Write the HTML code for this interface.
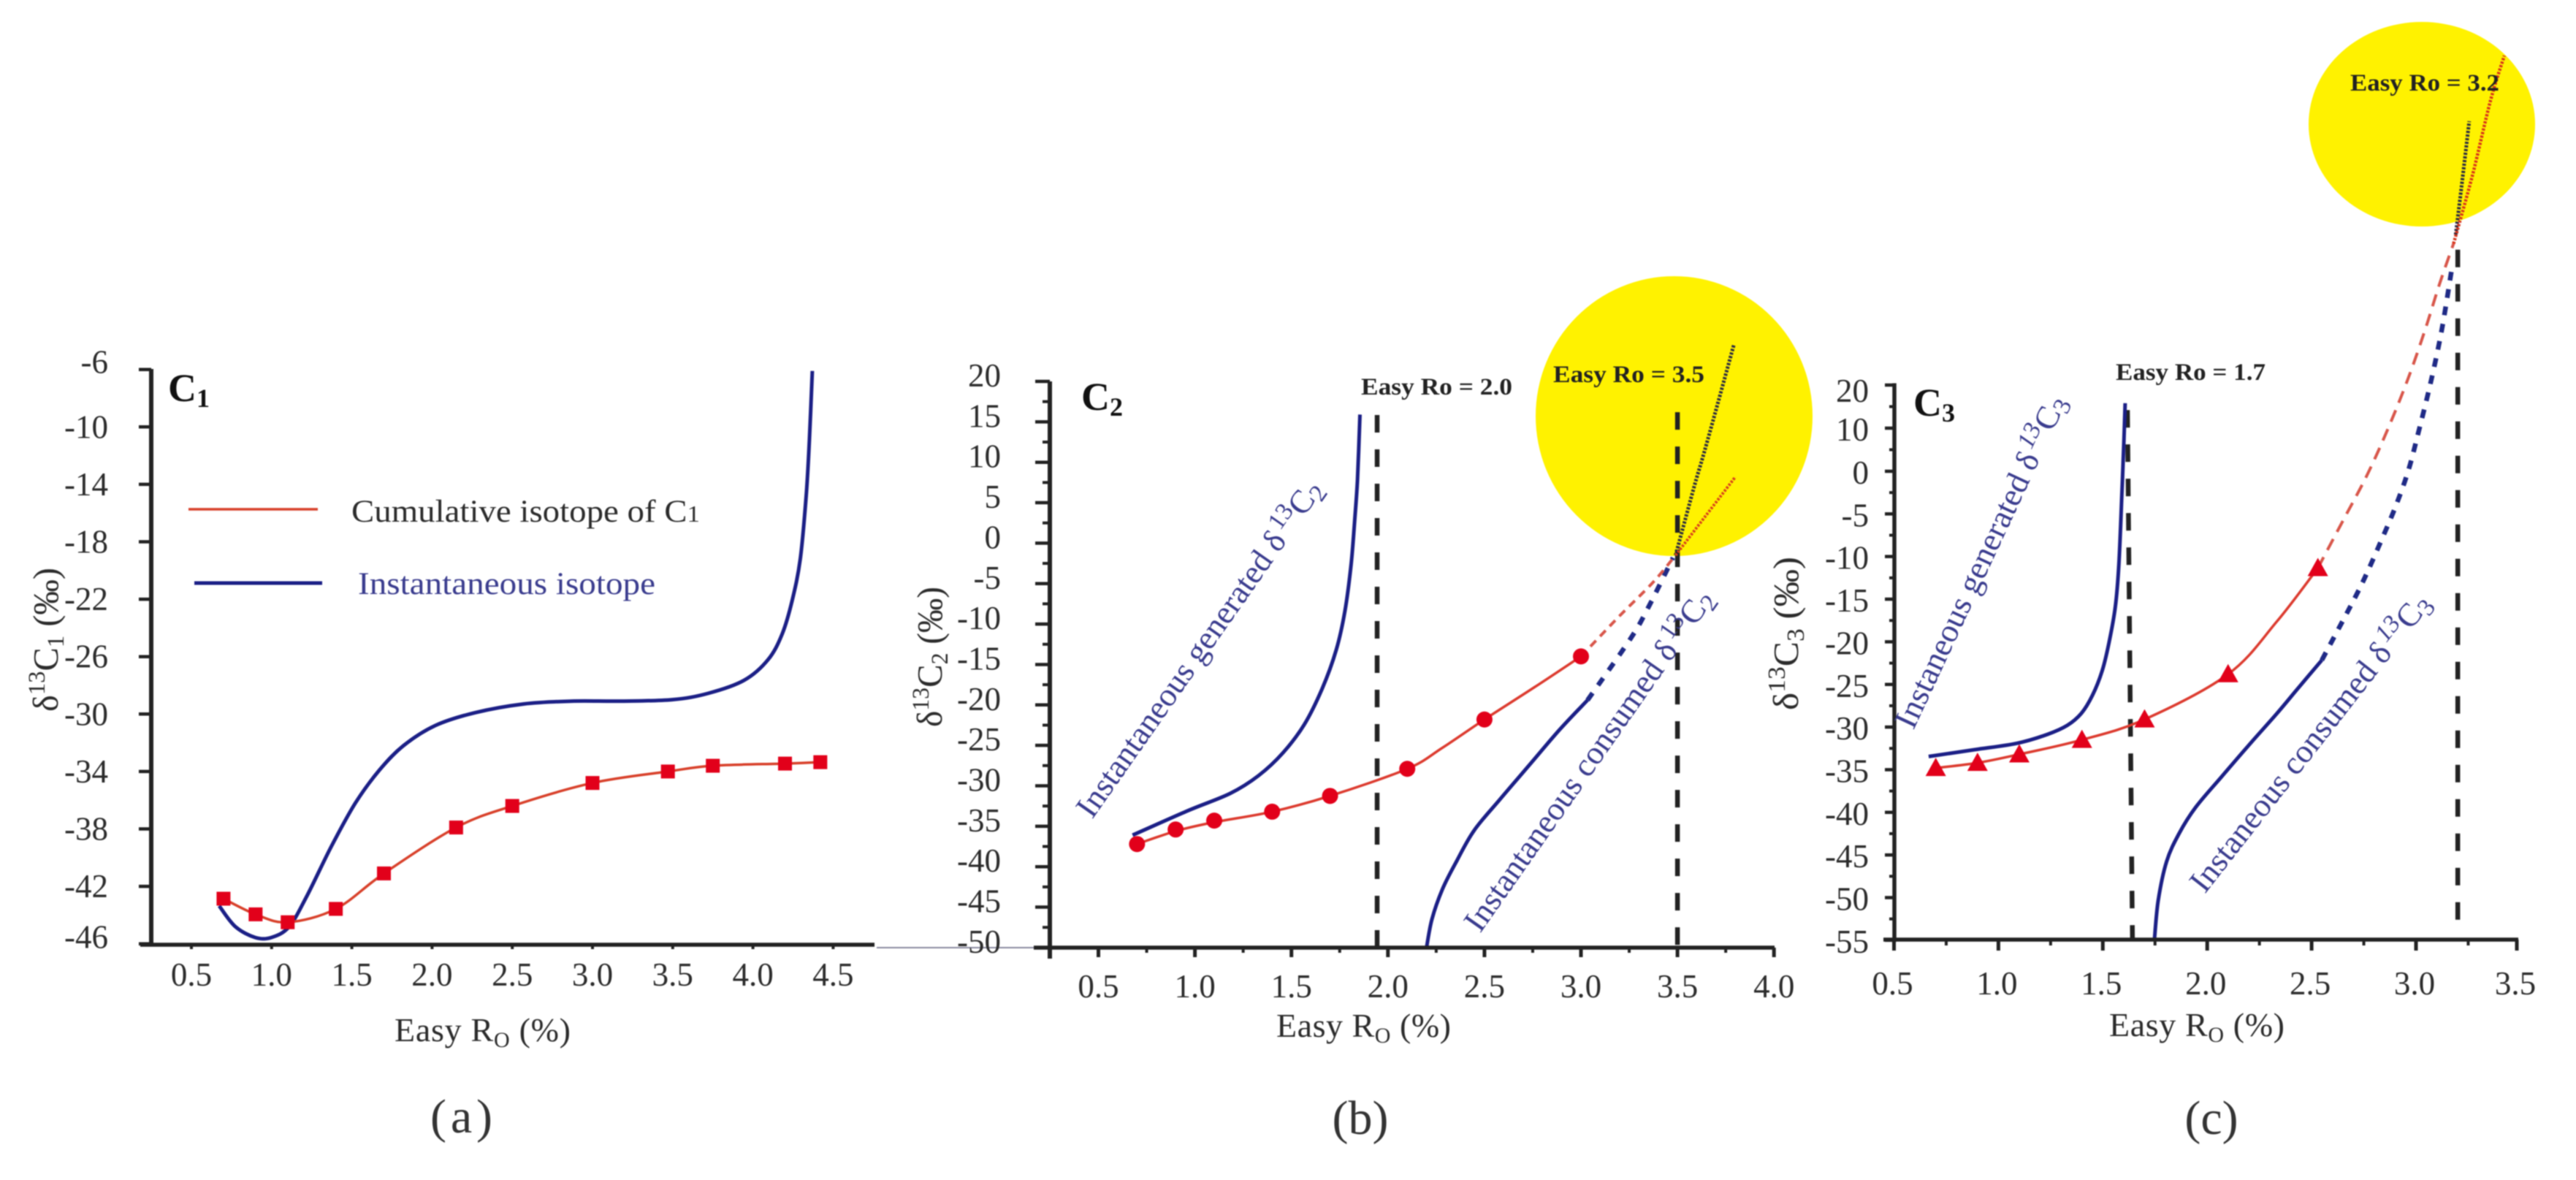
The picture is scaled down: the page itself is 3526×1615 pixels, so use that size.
<!DOCTYPE html>
<html>
<head>
<meta charset="utf-8">
<title>Isotope curves of C1, C2 and C3 versus Easy Ro</title>
<style>
html,body{margin:0;padding:0;background:#fff;width:3526px;height:1615px;overflow:hidden}
svg{display:block;filter:blur(0.9px)}
text{font-family:"Liberation Serif","DejaVu Serif",serif;fill:#2b2b2b}
.tick{font-size:45px}
.title{font-size:46px}
.ytitle{font-size:49px}
.tag{font-size:33px;font-weight:bold;fill:#222}
.panel{font-size:54px;font-weight:bold;fill:#111}
.cap{font-size:66px;fill:#333}
.blue{fill:#3a3c8e}
.rot{font-size:45px;fill:#3a3c8e}
</style>
</head>
<body>
<svg id="chart" width="3526" height="1615" viewBox="0 0 3526 1615">
  <rect x="0" y="0" width="3526" height="1615" fill="#fff"/>
  <line x1="1200" y1="1297" x2="1420" y2="1297" stroke="#8a8aa0" stroke-width="2"/>

  <g id="panel-a">
    <text class="panel" x="230" y="549">C<tspan font-size="36" dy="8">1</tspan></text>
    <g id="marks-a"></g>
    <line x1="258" y1="697" x2="435" y2="697" stroke="#d8402a" stroke-width="3.5"/>
    <text x="481" y="714" font-size="43" textLength="477" lengthAdjust="spacingAndGlyphs">Cumulative isotope of C<tspan font-size="32">1</tspan></text>
    <line x1="266" y1="798" x2="441" y2="798" stroke="#1b1f86" stroke-width="5"/>
    <text class="blue" x="490" y="813" font-size="43" textLength="407" lengthAdjust="spacingAndGlyphs">Instantaneous isotope</text>
    <text class="title" x="540" y="1425" textLength="241">Easy R<tspan font-size="30" dy="8">O</tspan><tspan dy="-8"> (%)</tspan></text>
    <text class="ytitle" transform="translate(79,974) rotate(-90)" textLength="197" lengthAdjust="spacingAndGlyphs">δ<tspan font-size="33" dy="-18">13</tspan><tspan dy="18">C</tspan><tspan font-size="33" dy="8">1</tspan><tspan dy="-8"> (‰)</tspan></text>
    <text class="cap" x="589" y="1550" textLength="85" lengthAdjust="spacing">(a)</text>
  </g>

  <g id="panel-b">
    <ellipse cx="2291.5" cy="569.5" rx="189.5" ry="191.5" fill="#fff200"/>
    <g id="marks-b"></g>
    <text class="panel" x="1480" y="561">C<tspan font-size="36" dy="8">2</tspan></text>
    <text class="tag" x="1863" y="540" textLength="207" lengthAdjust="spacingAndGlyphs">Easy Ro = 2.0</text>
    <text class="tag" x="2126" y="523" textLength="207" lengthAdjust="spacingAndGlyphs">Easy Ro = 3.5</text>
    <text class="rot" transform="translate(1495,1122) rotate(-55)">Instantaneous generated δ<tspan font-size="34" dy="-16" dx="5">13</tspan><tspan dy="16">C</tspan><tspan font-size="34" dy="8">2</tspan></text>
    <text class="rot" transform="translate(2026,1278) rotate(-55)">Instantaneous consumed δ<tspan font-size="34" dy="-16" dx="5">13</tspan><tspan dy="16">C</tspan><tspan font-size="34" dy="8">2</tspan></text>
    <text class="title" x="1747" y="1419" textLength="239">Easy R<tspan font-size="30" dy="8">O</tspan><tspan dy="-8"> (%)</tspan></text>
    <text class="ytitle" transform="translate(1289,995) rotate(-90)" textLength="192" lengthAdjust="spacingAndGlyphs">δ<tspan font-size="33" dy="-18">13</tspan><tspan dy="18">C</tspan><tspan font-size="33" dy="8">2</tspan><tspan dy="-8"> (‰)</tspan></text>
    <text class="cap" x="1862" y="1552" text-anchor="middle">(b)</text>
  </g>

  <g id="panel-c">
    <ellipse cx="3315" cy="170" rx="155" ry="140" fill="#fff200"/>
    <g id="marks-c"></g>
    <text class="panel" x="2619" y="569">C<tspan font-size="36" dy="8">3</tspan></text>
    <text class="tag" x="2896" y="520" textLength="205" lengthAdjust="spacingAndGlyphs">Easy Ro = 1.7</text>
    <text class="tag" x="3217" y="124" textLength="204" lengthAdjust="spacingAndGlyphs">Easy Ro = 3.2</text>
    <text class="rot" transform="translate(2619,1000) rotate(-65)">Instaneous generated δ<tspan font-size="34" dy="-16" dx="5" font-style="italic">13</tspan><tspan dy="16">C</tspan><tspan font-size="34" dy="8">3</tspan></text>
    <text class="rot" transform="translate(3018,1224) rotate(-52)">Instaneous consumed δ<tspan font-size="34" dy="-16" dx="5" font-style="italic">13</tspan><tspan dy="16">C</tspan><tspan font-size="34" dy="8">3</tspan></text>
    <text class="title" x="2887" y="1418" textLength="240">Easy R<tspan font-size="30" dy="8">O</tspan><tspan dy="-8"> (%)</tspan></text>
    <text class="ytitle" transform="translate(2461,972) rotate(-90)" font-size="52" textLength="210" lengthAdjust="spacingAndGlyphs">δ<tspan font-size="34" dy="-18">13</tspan><tspan dy="18">C</tspan><tspan font-size="34" dy="8">3</tspan><tspan dy="-8"> (‰)</tspan></text>
    <text class="cap" x="3027" y="1552" text-anchor="middle">(c)</text>
  </g>
</svg>

<script>
// ---------- Panel (a) data ----------
const aXTicks = [0.5, 1.0, 1.5, 2.0, 2.5, 3.0, 3.5, 4.0, 4.5];
const aYTicks = [-6, -10, -14, -18, -22, -26, -30, -34, -38, -42, -46];
const aCumulativeX = [0.7, 0.9, 1.1, 1.4, 1.7, 2.15, 2.5, 3.0, 3.47, 3.75, 4.2, 4.42];
const aCumulativeY = [-42.86, -43.95, -44.5, -43.57, -41.1, -37.9, -36.4, -34.8, -34.0, -33.6, -33.45, -33.35];
const aInstantX = [0.673, 0.773, 0.898, 0.998, 1.11, 1.223, 1.373, 1.522, 1.672, 1.822, 2.02, 2.27, 2.571, 2.871, 3.171, 3.496, 3.72, 3.945, 4.095, 4.183, 4.245, 4.295, 4.332, 4.352, 4.37];
const aInstantY = [-43.36, -44.8, -45.56, -45.56, -44.8, -42.6, -39.2, -36.2, -33.9, -32.2, -30.8, -29.9, -29.3, -29.1, -29.1, -29.0, -28.56, -27.65, -26.2, -24.4, -22.07, -19.2, -14.8, -10.9, -6.1];

// ---------- Panel (b) data ----------
const bXTicks = [0.5, 1.0, 1.5, 2.0, 2.5, 3.0, 3.5, 4.0];
const bYTicks = [20, 15, 10, 5, 0, -5, -10, -15, -20, -25, -30, -35, -40, -45, -50];
const bCumulativeX = [0.7, 0.9, 1.1, 1.4, 1.7, 2.1, 2.5, 3.0];
const bCumulativeY = [-37.2, -35.4, -34.3, -33.2, -31.25, -27.9, -21.8, -14.0];
const bCumLineX = [0.7, 0.9, 1.1, 1.4, 1.7, 2.1, 2.282, 2.5, 2.76, 3.0];
const bCumLineY = [-37.2, -35.6, -34.5, -33.2, -31.25, -27.9, -25.3, -21.8, -17.8, -14.0];
const bCumDashX = [3.0, 3.2, 3.375, 3.49];
const bCumDashY = [-14.0, -9, -4.8, -1.5];
const bCumDotX = [3.49, 3.65, 3.8];
const bCumDotY = [-1.5, 3.5, 8.2];
const bGeneratedX = [0.677, 0.961, 1.182, 1.329, 1.457, 1.567, 1.659, 1.732, 1.777, 1.809, 1.827, 1.842, 1.855];
const bGeneratedY = [-36.1, -33.1, -30.95, -28.75, -25.9, -22.4, -18.0, -13.2, -8.4, -2.7, 2.57, 7.8, 15.9];
const bConsumedX = [2.2, 2.228, 2.282, 2.356, 2.447, 2.576, 2.723, 2.888, 3.034];
const bConsumedY = [-50, -46.5, -42.8, -39.3, -35.5, -31.8, -27.7, -23.1, -19.4];
const bConsDashX = [3.034, 3.257, 3.352, 3.477];
const bConsDashY = [-19.4, -11.8, -7.8, -1.8];
const bBlackDotX = [3.49, 3.588, 3.65, 3.793];
const bBlackDotY = [-1.5, 7.1, 12.2, 24.6];
const bCutoffTopX = [1.944, 3.5];
const bCutoffBottomX = [1.944, 3.5];
const bCutoffTop = [15.85, 16.2];
const bCutoffBottom = [-50, -50];

// ---------- Panel (c) data ----------
const cXTicks = [0.5, 1.0, 1.5, 2.0, 2.5, 3.0, 3.5];
const cYTicks = [20, 10, 0, -5, -10, -15, -20, -25, -30, -35, -40, -45, -50, -55];
const cCumulativeX = [0.7, 0.9, 1.1, 1.4, 1.7, 2.1, 2.53];
const cCumulativeY = [-34.8, -34.2, -33.2, -31.5, -29.1, -23.8, -11.35];
const cCumLineX = [0.7, 0.9, 1.1, 1.4, 1.7, 2.1, 2.334, 2.53];
const cCumLineY = [-34.8, -34.2, -33.2, -31.5, -29.1, -23.8, -17.6, -11.35];
const cCumDashX = [2.53, 2.649, 2.766, 2.871, 2.964, 3.045, 3.115, 3.18];
const cCumDashY = [-11.35, -5.85, -0.43, 10.46, 21.75, 33.05, 43.8, 52.8];
const cCumDotX = [3.18, 3.27, 3.357, 3.423];
const cCumDotY = [52.8, 68.6, 86, 96.4];
const cGeneratedX = [0.666, 0.887, 1.089, 1.236, 1.33, 1.397, 1.45, 1.497, 1.53, 1.56, 1.577, 1.59, 1.601, 1.607];
const cGeneratedY = [-33.45, -32.65, -31.9, -30.85, -29.8, -28.4, -26.3, -23.4, -20.05, -15.9, -10.9, -3.5, 7.1, 15.8];
const cConsumedX = [1.747, 1.765, 1.805, 1.865, 1.945, 2.066, 2.2, 2.334, 2.44, 2.549];
const cConsumedY = [-55, -50.4, -45.8, -42.5, -39.4, -35.9, -32.1, -28.4, -25.3, -22.15];
const cConsDashX = [2.549, 2.707, 2.771, 2.841, 2.906, 2.964, 3.01, 3.069, 3.121, 3.162, 3.174];
const cConsDashY = [-22.15, -14.85, -11.6, -7.7, -3.9, 0.29, 8.76, 20.3, 32.2, 44.1, 48];
const cBlackDotX = [3.19, 3.218, 3.255];
const cBlackDotY = [54.9, 66, 81.2];
const cCutoffTopX = [1.618, 3.2];
const cCutoffBottomX = [1.642, 3.2];
const cCutoffTop = [14.2, 51.4];
const cCutoffBottom = [-55, -52.7];

// ---------- Axis functions ----------
function axA_x(v){ return 811 + (v - 3) * 219.6; }
function axA_y(v){ return 505.7 + (-6 - v) * 19.65; }
function axB_x(v){ return 1503.5 + (v - 0.5) * 264.2; }
function axB_y(v){ return 522 + (20 - v) * 11.07; }
function axC_x(v){ return 2592.5 + (v - 0.5) * 285.8; }
function axC_y(v){ return v >= 0 ? 645 - 5.9 * v : 645 - 11.67 * v; } // printed axis is compressed above zero

const NS = document.getElementById('chart').namespaceURI;

function smoothPath(xs, ys, fx, fy){
  const p = xs.map(function(x, i){ return [fx(x), fy(ys[i])]; });
  let d = 'M' + p[0][0].toFixed(1) + ' ' + p[0][1].toFixed(1);
  for (let i = 0; i < p.length - 1; i++){
    const a = p[Math.max(i - 1, 0)], b = p[i], c = p[i + 1], e = p[Math.min(i + 2, p.length - 1)];
    const c1x = b[0] + (c[0] - a[0]) / 6, c1y = b[1] + (c[1] - a[1]) / 6;
    const c2x = c[0] - (e[0] - b[0]) / 6, c2y = c[1] - (e[1] - b[1]) / 6;
    d += 'C' + c1x.toFixed(1) + ' ' + c1y.toFixed(1) + ' ' + c2x.toFixed(1) + ' ' + c2y.toFixed(1) + ' ' + c[0].toFixed(1) + ' ' + c[1].toFixed(1);
  }
  return d;
}

function drawSeries(parent, name, xs, ys, fx, fy, color, width, dash){
  const path = document.createElementNS(NS, 'path');
  
  
  path.setAttribute('d', smoothPath(xs, ys, fx, fy));
  path.setAttribute('fill', 'none');
  path.setAttribute('stroke', color);
  path.setAttribute('stroke-width', width);
  if (dash) path.setAttribute('stroke-dasharray', dash);
  parent.appendChild(path);
}

function drawLine(parent, name, x1, y1, x2, y2, color, width, dash){
  const ln = document.createElementNS(NS, 'line');
  
  
  ln.setAttribute('x1', x1);
  ln.setAttribute('y1', y1);
  ln.setAttribute('x2', x2);
  ln.setAttribute('y2', y2);
  ln.setAttribute('stroke', color);
  ln.setAttribute('stroke-width', width);
  if (dash) ln.setAttribute('stroke-dasharray', dash);
  parent.appendChild(ln);
}

function drawLabel(parent, name, str, x, y, anchor){
  const t = document.createElementNS(NS, 'text');
  
  
  t.setAttribute('class', 'tick');
  t.setAttribute('x', x);
  t.setAttribute('y', y);
  t.setAttribute('text-anchor', anchor);
  t.textContent = str;
  parent.appendChild(t);
}

function xLabelText(v){ return v.toFixed(1); }

// ---------- Panel (a) ----------
(function(){
  const g = document.getElementById('marks-a');
  drawSeries(g, 'instantaneous-isotope-curve', aInstantX, aInstantY, axA_x, axA_y, '#1b1f86', 5);
  drawSeries(g, 'cumulative-isotope-curve', aCumulativeX, aCumulativeY, axA_x, axA_y, '#d8402a', 3.5);
  aCumulativeX.forEach(function(x, i){
    const m = document.createElementNS(NS, 'rect');
    
    
    m.setAttribute('x', axA_x(x) - 9.5);
    m.setAttribute('y', axA_y(aCumulativeY[i]) - 9.5);
    m.setAttribute('width', 19);
    m.setAttribute('height', 19);
    m.setAttribute('fill', '#e2001a');
    g.appendChild(m);
  });
  drawLine(g, 'y-axis-line', 207, 505, 207, 1295, '#222', 6);
  drawLine(g, 'x-axis-line', 192, 1293, 1197, 1293, '#222', 5.5);
  aYTicks.forEach(function(v){
    drawLine(g, 'y-axis-tick', 190, axA_y(v), 207, axA_y(v), '#222', 4.5);
    const nudge = v === -6 ? -10 : (v === -46 ? -9 : 0);
    drawLabel(g, 'y-axis-tick-label', String(v), 148, axA_y(v) + 15 + nudge, 'end');
  });
  aXTicks.forEach(function(v){
    drawLine(g, 'x-axis-tick', axA_x(v), 1293, axA_x(v), 1299, '#222', 4);
    drawLabel(g, 'x-axis-tick-label', xLabelText(v), axA_x(v), 1349, 'middle');
  });
})();

// ---------- Panel (b) ----------
(function(){
  const g = document.getElementById('marks-b');
  bCutoffTopX.forEach(function(x, i){
    drawLine(g, 'threshold-dashed-line', axB_x(x), axB_y(bCutoffTop[i]), axB_x(bCutoffBottomX[i]), axB_y(bCutoffBottom[i]), '#222', 6.5, '24 23');
  });
  drawSeries(g, 'generated-curve', bGeneratedX, bGeneratedY, axB_x, axB_y, '#1b1f86', 5);
  drawSeries(g, 'consumed-curve', bConsumedX, bConsumedY, axB_x, axB_y, '#1b1f86', 5);
  drawSeries(g, 'consumed-curve-extrapolated', bConsDashX, bConsDashY, axB_x, axB_y, '#1f2a86', 6.5, '12 13');
  drawSeries(g, 'cumulative-curve', bCumLineX, bCumLineY, axB_x, axB_y, '#dc3a2e', 3.5);
  drawSeries(g, 'cumulative-curve-extrapolated', bCumDashX, bCumDashY, axB_x, axB_y, '#d8564a', 4, '11 8');
  drawSeries(g, 'consumed-dotted-extension', bBlackDotX, bBlackDotY, axB_x, axB_y, '#2b2b40', 5, '3 2');
  drawSeries(g, 'cumulative-dotted-extension', bCumDotX, bCumDotY, axB_x, axB_y, '#d8431a', 4, '3 2');
  bCumulativeX.forEach(function(x, i){
    const m = document.createElementNS(NS, 'circle');
    
    
    m.setAttribute('cx', axB_x(x));
    m.setAttribute('cy', axB_y(bCumulativeY[i]));
    m.setAttribute('r', 11);
    m.setAttribute('fill', '#e2001a');
    g.appendChild(m);
  });
  drawLine(g, 'y-axis-line', 1437, 522, 1437, 1312, '#222', 6);
  drawLine(g, 'x-axis-line', 1415, 1297, 2429, 1297, '#222', 5.5);
  bYTicks.forEach(function(v, i){
    drawLine(g, 'y-axis-tick', 1417, axB_y(v), 1437, axB_y(v), '#222', 4.5);
    drawLabel(g, 'y-axis-tick-label', String(v), 1370, axB_y(v) + 7, 'end');
    if (i < bYTicks.length - 1){
      const mid = (axB_y(v) + axB_y(bYTicks[i + 1])) / 2;
      drawLine(g, 'y-axis-minor-tick', 1427, mid, 1437, mid, '#222', 4);
    }
  });
  bXTicks.forEach(function(v, i){
    drawLine(g, 'x-axis-tick', axB_x(v), 1297, axB_x(v), 1310, '#222', 5);
    drawLabel(g, 'x-axis-tick-label', xLabelText(v), axB_x(v), 1365, 'middle');
    if (i < bXTicks.length - 1){
      const mid = (axB_x(v) + axB_x(bXTicks[i + 1])) / 2;
      drawLine(g, 'x-axis-minor-tick', mid, 1297, mid, 1304, '#222', 4);
    }
  });
})();

// ---------- Panel (c) ----------
(function(){
  const g = document.getElementById('marks-c');
  cCutoffTopX.forEach(function(x, i){
    drawLine(g, 'threshold-dashed-line', axC_x(x), axC_y(cCutoffTop[i]), axC_x(cCutoffBottomX[i]), axC_y(cCutoffBottom[i]), '#222', 6.5, '24 23');
  });
  drawSeries(g, 'generated-curve', cGeneratedX, cGeneratedY, axC_x, axC_y, '#1b1f86', 5);
  drawSeries(g, 'consumed-curve', cConsumedX, cConsumedY, axC_x, axC_y, '#1b1f86', 5);
  drawSeries(g, 'consumed-curve-extrapolated', cConsDashX, cConsDashY, axC_x, axC_y, '#1f2a86', 6.5, '12 12');
  drawSeries(g, 'cumulative-curve', cCumLineX, cCumLineY, axC_x, axC_y, '#dc3a2e', 3.5);
  drawSeries(g, 'cumulative-curve-extrapolated', cCumDashX, cCumDashY, axC_x, axC_y, '#d8564a', 4, '17 11');
  drawSeries(g, 'consumed-dotted-extension', cBlackDotX, cBlackDotY, axC_x, axC_y, '#2b2b40', 5, '3 2');
  drawSeries(g, 'cumulative-dotted-extension', cCumDotX, cCumDotY, axC_x, axC_y, '#d8331a', 4.5, '3 2');
  cCumulativeX.forEach(function(x, i){
    const px = axC_x(x), py = axC_y(cCumulativeY[i]);
    const m = document.createElementNS(NS, 'polygon');
    
    
    m.setAttribute('points', px + ',' + (py - 14) + ' ' + (px + 14) + ',' + (py + 11) + ' ' + (px - 14) + ',' + (py + 11));
    m.setAttribute('fill', '#e2001a');
    g.appendChild(m);
  });
  drawLine(g, 'y-axis-line', 2593, 524.5, 2593, 1289, '#222', 5.5);
  drawLine(g, 'x-axis-line', 2578, 1286, 3447, 1286, '#222', 5.5);
  cYTicks.forEach(function(v, i){
    drawLine(g, 'y-axis-tick', 2580, axC_y(v), 2593, axC_y(v), '#222', 4.5);
    const nudge = v === 20 ? 6 : 0;
    drawLabel(g, 'y-axis-tick-label', String(v), 2558, axC_y(v) + 17 + nudge, 'end');
    if (i < cYTicks.length - 1){
      const mid = (axC_y(v) + axC_y(cYTicks[i + 1])) / 2;
      drawLine(g, 'y-axis-minor-tick', 2586, mid, 2593, mid, '#222', 4);
    }
  });
  cXTicks.forEach(function(v, i){
    const px = Math.min(axC_x(v), 3445);
    drawLine(g, 'x-axis-tick', px, 1286, px, 1301, '#222', 5);
    drawLabel(g, 'x-axis-tick-label', xLabelText(v), px - 2, 1361, 'middle');
    if (i < cXTicks.length - 1){
      const mid = (axC_x(v) + axC_x(cXTicks[i + 1])) / 2;
      drawLine(g, 'x-axis-minor-tick', mid, 1286, mid, 1294, '#222', 4);
    }
  });
})();
</script>
</body>
</html>
